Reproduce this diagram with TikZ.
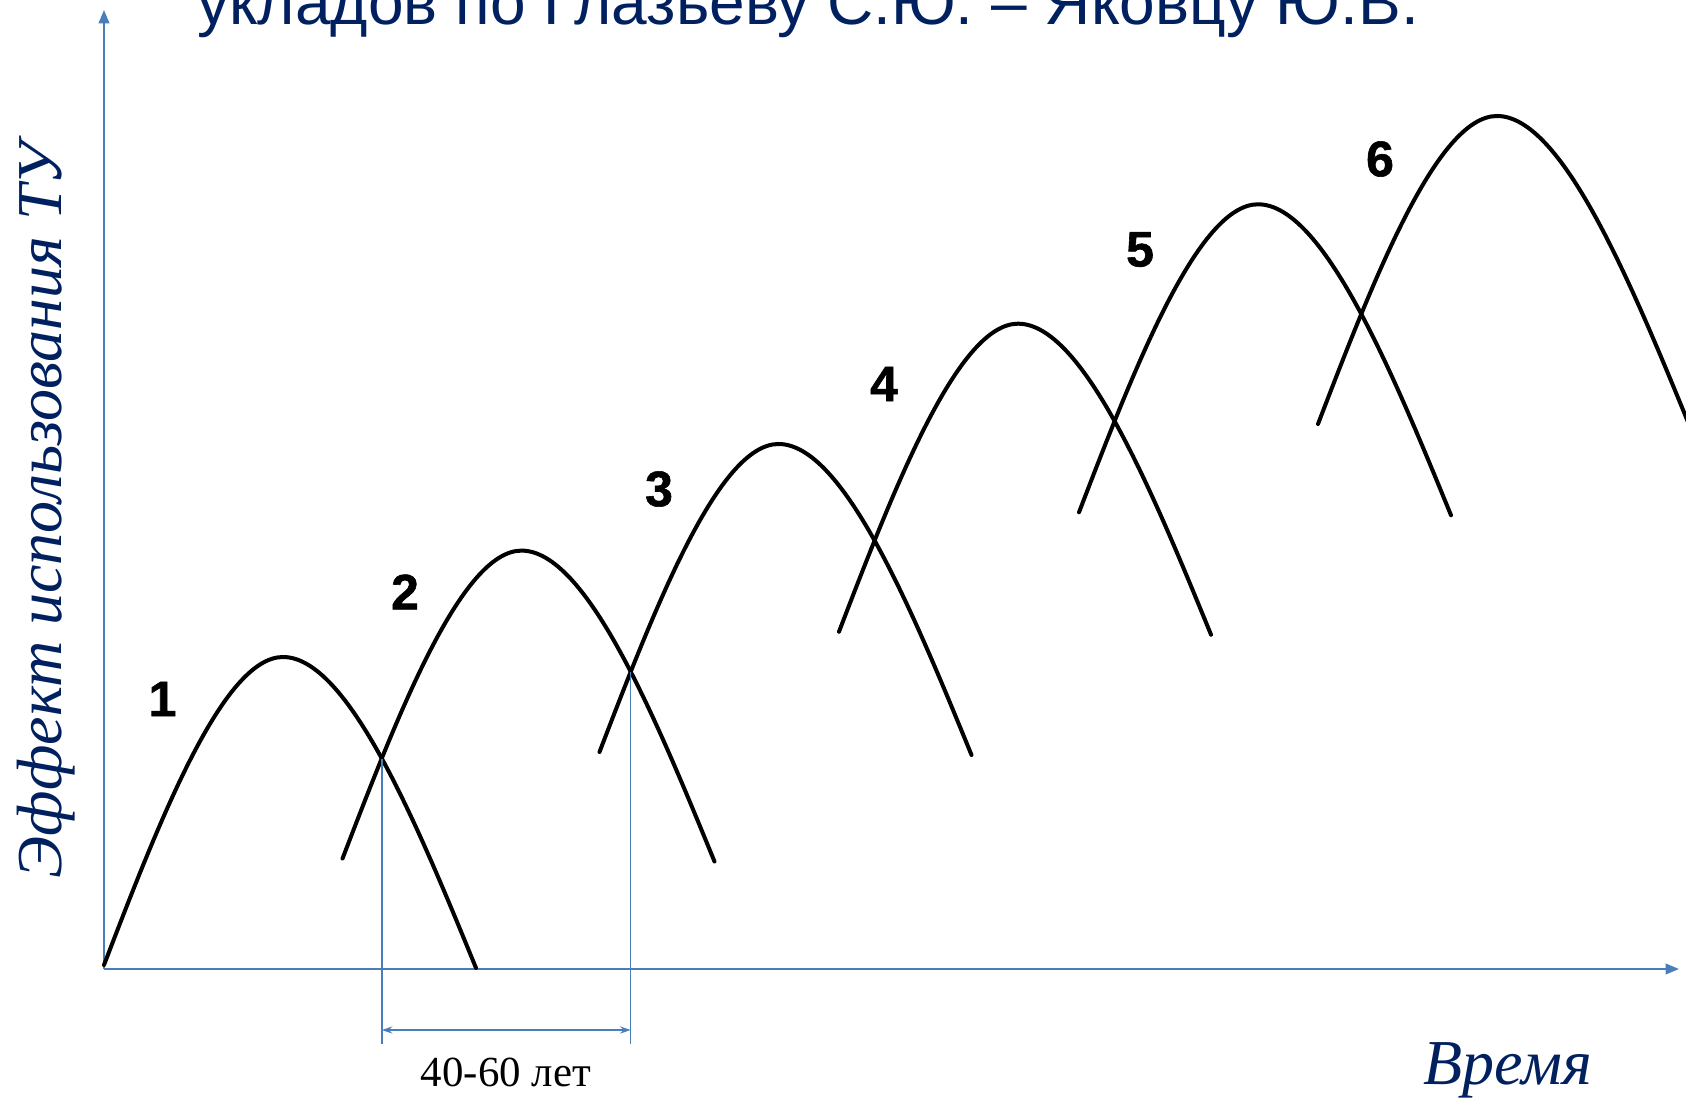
\documentclass[tikz,border=0pt]{standalone}
\usepackage{fontspec}
\setmainfont{Liberation Serif}
\newfontfamily\arialf{Liberation Sans}
\newfontfamily\numfont[FakeBold=1.2]{Liberation Sans Bold}
\usetikzlibrary{arrows.meta,intersections}
\definecolor{navy}{HTML}{002060}
\definecolor{axisblue}{HTML}{4A7EBB}
\begin{document}
\begin{tikzpicture}[x=0.01cm,y=-0.01cm,
  wave/.style={line width=1.14pt,black,line cap=round},
  axisline/.style={line width=0.6pt,draw=axisblue,-{Triangle[width=3pt,length=3.8pt]}},
  guide/.style={line width=0.45pt,draw=axisblue},
  dimarrow/.style={line width=0.5pt,draw=axisblue,{Stealth[length=3pt,width=2pt]}-{Stealth[length=3pt,width=2pt]}},
  num/.style={font=\numfont\fontsize{14.2}{16}\selectfont,inner sep=0pt},
  titletext/.style={font=\arialf\fontsize{18.2}{20}\selectfont,text=navy,inner sep=0pt},
  axislabel/.style={font=\itshape\fontsize{18.2}{20}\selectfont,text=navy,inner sep=0pt},
  dimlabel/.style={font=\fontsize{12.2}{14}\selectfont,inner sep=0pt}]
\useasboundingbox (0,0) rectangle (1686,1098);
\fill[white] (0,0) rectangle (1686,1098);

% title (cut by the top edge, as in the reference)
\node[titletext,anchor=base] (title) at (808,25) {укладов по Глазьеву С.Ю. – Яковцу Ю.В.};

% axes
\coordinate (O) at (104,969);
\coordinate (Ytop) at (104,10);
\coordinate (Xend) at (1679,969);
\draw[axisline] (O) -- (Ytop);
\draw[axisline] (O) -- (Xend);

% waves
\foreach \px/\py/\n in {283/657/1, 521.5/550.6/2, 778.5/444/3, 1018/323.7/4, 1258/204.3/5, 1497/116/6}{
  \draw[wave, name path global=w\n, shift={(\px,\py)}]
    (-179,308) .. controls (-123.5,163.2) and (-60,0) .. (0,0)
    .. controls (64.7,0) and (133.2,164.8) .. (193,311);
}

% numbers
\node[num] (n1) at (162.5,699) {1};
\node[num] (n2) at (405,592) {2};
\node[num] (n3) at (659,489) {3};
\node[num] (n4) at (884,384) {4};
\node[num] (n5) at (1140,249.5) {5};
\node[num] (n6) at (1380,159) {6};

% dimension
\path[name intersections={of=w1 and w2, by=X12}];
\path[name intersections={of=w2 and w3, by=X23}];
\coordinate (Bot) at (0,1044);
\coordinate (Arr) at (0,1030);
\draw[guide] (X12) -- (X12 |- Bot);
\draw[guide] (X23) -- (X23 |- Bot);
\draw[dimarrow] (X12 |- Arr) -- (X23 |- Arr);
\node[dimlabel,anchor=base] (dim) at (506,1086) {40-60 лет};

% axis labels
\node[axislabel,anchor=base] (xl) at (1508,1084) {Время};
\node[axislabel,anchor=base,rotate=90] (yl) at (61,510) {Эффект использования ТУ};
\end{tikzpicture}
\end{document}
